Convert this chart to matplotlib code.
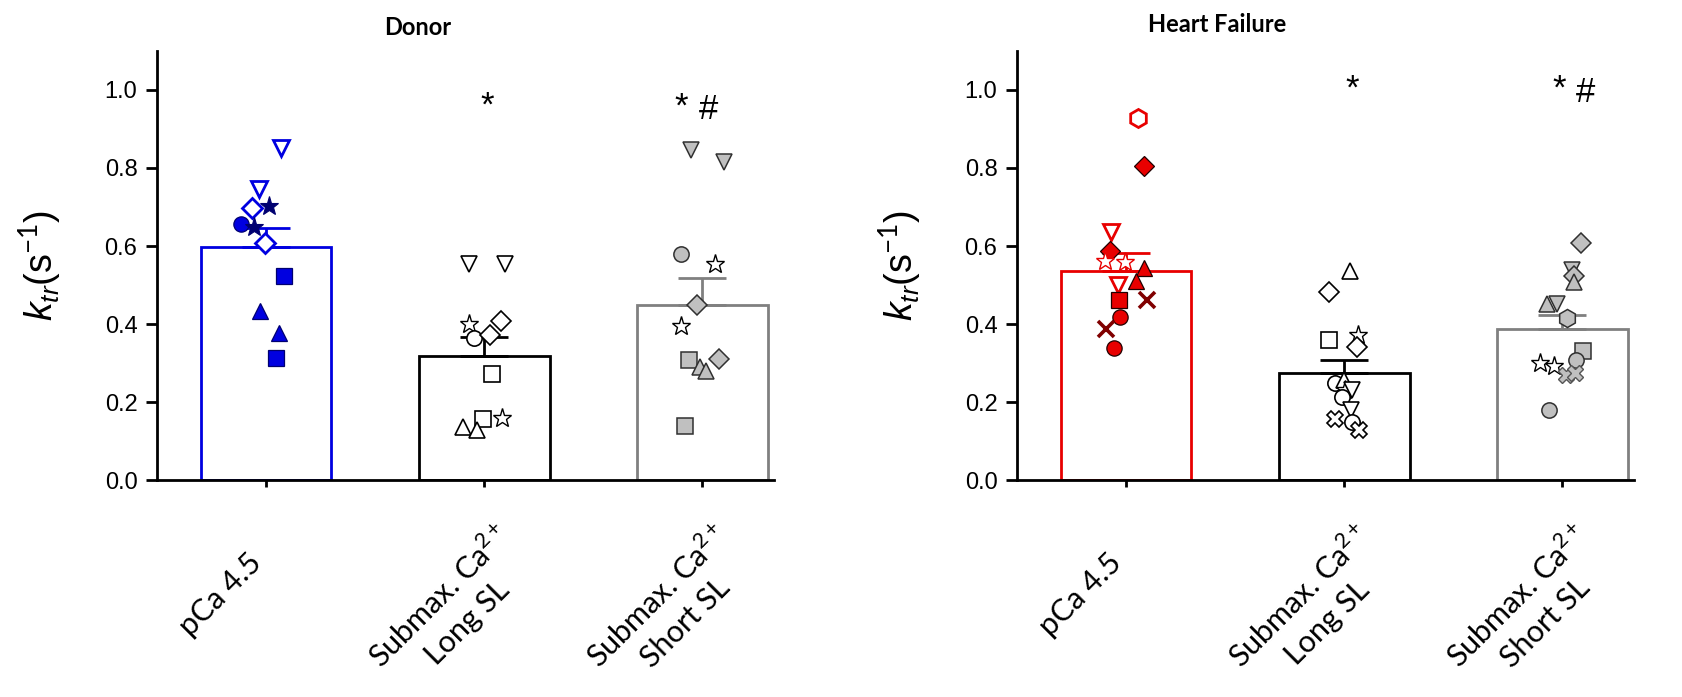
import numpy as np
import matplotlib
matplotlib.use("Agg")
from matplotlib import pyplot as plt
from matplotlib.transforms import ScaledTranslation

#==================== DATA ====================
groups = ["pCa 4.5", "Submax. Ca$^{2+}$\nLong SL", "Submax. Ca$^{2+}$\nShort SL"]

donor_mean = [0.597, 0.318, 0.450]
donor_sem = [0.050, 0.048, 0.069]
hf_mean = [0.536, 0.276, 0.388]
hf_sem = [0.045, 0.032, 0.036]

# individual fibres, Donor
d_pca = [0.850, 0.745, 0.697, 0.703, 0.657, 0.650, 0.609, 0.522, 0.434, 0.377, 0.313]
d_long = [0.555, 0.555, 0.400, 0.408, 0.364, 0.372, 0.273, 0.157, 0.159, 0.137, 0.129]
d_short = [0.847, 0.815, 0.579, 0.554, 0.450, 0.396, 0.308, 0.310, 0.289, 0.280, 0.139]

# individual fibres, Heart Failure
h_pca = [0.928, 0.806, 0.635, 0.587, 0.561, 0.559, 0.545, 0.511, 0.501, 0.463, 0.463, 0.417, 0.387, 0.338]
h_long = [0.535, 0.483, 0.360, 0.372, 0.341, 0.250, 0.258, 0.230, 0.230, 0.214, 0.180, 0.156, 0.150, 0.128]
h_short = [0.607, 0.539, 0.524, 0.509, 0.451, 0.451, 0.416, 0.330, 0.309, 0.300, 0.293, 0.270, 0.274, 0.180]

# horizontal scatter of the points around the bar centre
d_pca_jit = [0.071, -0.03, -0.065, 0.016, -0.116, -0.055, -0.004, 0.082, -0.029, 0.06, 0.045]
d_long_jit = [-0.071, 0.096, -0.071, 0.078, -0.047, 0.027, 0.037, -0.006, 0.082, -0.096, -0.031]
d_short_jit = [-0.05, 0.098, -0.097, 0.058, -0.023, -0.097, -0.06, 0.077, -0.009, 0.016, -0.08]
h_pca_jit = [0.054, 0.084, -0.068, -0.072, -0.096, -0.006, 0.082, 0.044, -0.038, -0.03, 0.094, -0.026, -0.092, -0.056]
h_long_jit = [0.026, -0.07, -0.07, 0.064, 0.06, -0.042, 0.0, 0.004, 0.034, -0.012, 0.03, -0.04, 0.034, 0.07]
h_short_jit = [0.084, 0.044, 0.054, 0.052, -0.068, -0.022, 0.022, 0.094, 0.064, -0.10, -0.036, 0.018, 0.058, -0.062]

# marker per fibre
d_pca_mk = ['v', 'v', 'D', '*', 'o', '*', 'D', 's', '^', '^', 's']
d_long_mk = ['v', 'v', '*', 'D', 'o', 'D', 's', 's', '*', '^', '^']
d_short_mk = ['v', 'v', 'o', '*', 'D', '*', 's', 'D', '^', '^', 's']
h_pca_mk = ['h', 'D', 'v', 'D', '*', '*', '^', '^', 'v', 's', 'x', 'o', 'x', 'o']
h_long_mk = ['^', 'D', 's', '*', 'D', 'o', '^', '*', 'v', 'o', 'v', 'X', 'o', 'X']
h_short_mk = ['D', 'v', 'D', '^', '^', 'v', 'h', 's', 'o', '*', '*', 'X', 'X', 'o']

# significance marks (text, x, y)
d_marks = [("*", 1.016, 0.958), ("*", 1.903, 0.955), ("#", 2.027, 0.950)]
h_marks = [("*", 1.038, 1.003), ("*", 1.988, 1.001), ("#", 2.107, 0.994)]

#==================== STYLE ====================
BLUE = "#0000e0"
NAVY = "#000070"
RED = "#e80000"
DARKRED = "#800000"
GREY = "#c0c0c0"
MS = {'v': 12, '^': 12, 'D': 10, 's': 11, 'o': 11, '*': 14, 'h': 13, 'x': 11, 'X': 12}

plt.rcParams['font.family'] = ['Liberation Sans', 'DejaVu Sans']
plt.rcParams['mathtext.fontset'] = 'custom'
plt.rcParams['mathtext.rm'] = 'Lato'
plt.rcParams['mathtext.it'] = 'Liberation Sans:italic'


def pca_style(m, col, dark):
    # returns face, edge, edgewidth
    if m in ('v', 'h'):
        return 'white', col, 2.0
    if m == '*':
        if col == BLUE:
            return NAVY, NAVY, 0.8
        return 'white', col, 1.0
    if m == 'x':
        return dark, dark, 2.6
    if m == 'D' and col == BLUE:
        return 'white', col, 2.0
    return col, '#200000' if col == RED else NAVY, 0.9


def long_style(m):
    if m == '*':
        return 'white', 'black', 1.0
    return 'white', 'black', 1.2


def short_style(m):
    if m == '*':
        return 'white', 'black', 1.0
    if m == 'X':
        return GREY, '#555555', 1.0
    return GREY, '#303030', 1.1


def draw_points(ax, xc, vals, jit, mks, stylefn):
    for v, j, m in zip(vals, jit, mks):
        fc, ec, ew = stylefn(m)
        ax.plot(xc + j, v, linestyle='none', marker=m, ms=MS[m],
                mfc=fc, mec=ec, mew=ew, zorder=4)


def group_labels(ax, x):
    # rotated labels, one text per line so that each line box stays tight
    base = ax.get_xaxis_transform()
    for xi, lab in zip(x, groups):
        for k, line in enumerate(lab.split("\n")):
            dx = (-55 + 28 * k) / 100      # inches at dpi 100
            dy = (-105 - 28 * k) / 100
            tr = base + ScaledTranslation(dx, dy, ax.figure.dpi_scale_trans)
            ax.text(xi, 0, line, transform=tr, rotation=45,
                    rotation_mode='anchor', ha='center', va='top',
                    fontsize=22, family='Lato', clip_on=False)


def panel(ax, means, sems, col, dark, pts, jits, mks, marks):
    x = np.arange(3)
    edges = [col, 'black', '#808080']
    for i in range(3):
        ax.bar(x[i], means[i], width=0.6, facecolor='white', edgecolor=edges[i],
               linewidth=2.0, zorder=1)
        ax.errorbar(x[i], means[i], yerr=[[0], [sems[i]]], color=edges[i],
                    capsize=17, elinewidth=2.0, capthick=2.0, zorder=2)
    draw_points(ax, 0, pts[0], jits[0], mks[0], lambda m: pca_style(m, col, dark))
    draw_points(ax, 1, pts[1], jits[1], mks[1], long_style)
    draw_points(ax, 2, pts[2], jits[2], mks[2], short_style)
    for t, tx, ty in marks:
        ax.text(tx, ty, t, ha='center', va='center', fontsize=25)
    ax.set_xlim(-0.5, 2.33)
    ax.set_ylim(0, 1.1)
    ax.set_yticks(np.arange(0, 1.01, 0.2))
    ax.set_yticklabels([f"{t:.1f}" for t in np.arange(0, 1.01, 0.2)])
    ax.set_xticks(x)
    ax.set_xticklabels([])
    group_labels(ax, x)
    ax.tick_params(axis='x', length=5, width=2)
    ax.tick_params(axis='y', length=8, width=2, labelsize=17, pad=6)
    for s in ('top', 'right'):
        ax.spines[s].set_visible(False)
    for s in ('left', 'bottom'):
        ax.spines[s].set_linewidth(2)
    ax.set_ylabel(r'$k_{tr}$(s$^{-1}$)', fontsize=27)
    ax.yaxis.set_label_coords(-0.15, 0.5)


fig = plt.figure(figsize=(16.82, 6.97), dpi=100)
ax1 = fig.add_axes([0.0933, 0.311, 0.367, 0.616])
ax2 = fig.add_axes([0.6046, 0.311, 0.367, 0.616])

panel(ax1, donor_mean, donor_sem, BLUE, NAVY,
      [d_pca, d_long, d_short], [d_pca_jit, d_long_jit, d_short_jit],
      [d_pca_mk, d_long_mk, d_short_mk], d_marks)
panel(ax2, hf_mean, hf_sem, RED, DARKRED,
      [h_pca, h_long, h_short], [h_pca_jit, h_long_jit, h_short_jit],
      [h_pca_mk, h_long_mk, h_short_mk], h_marks)

fig.text(0.2485, 0.96, "Donor", ha='center', va='center', fontsize=17,
         fontweight='bold', family='Lato')
fig.text(0.7235, 0.965, "Heart Failure", ha='center', va='center', fontsize=17,
         fontweight='bold', family='Lato')

fig.savefig("out.png", dpi=100, facecolor='white')
